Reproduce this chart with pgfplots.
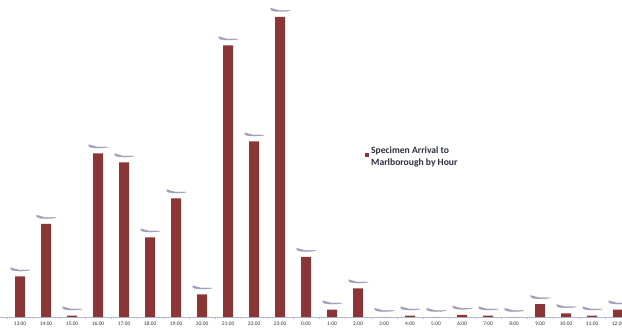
\documentclass[border=0pt]{standalone}
\usepackage{pgfplots}
\pgfplotsset{compat=1.18}
\usepackage{fontspec}
\setmainfont{Carlito}

\definecolor{barred}{HTML}{8B3636}
\definecolor{lblgray}{HTML}{9EA0BC}
\definecolor{axisgray}{HTML}{B4B8D0}
\definecolor{textdark}{HTML}{2E2E40}

\pgfplotstableread{
idx hour  count
0   13:00 27
1   14:00 62
2   15:00 1
3   16:00 109
4   17:00 103
5   18:00 53
6   19:00 79
7   20:00 15
8   21:00 181
9   22:00 117
10  23:00 200
11  0:00  40
12  1:00  5
13  2:00  19
14  3:00  0
15  4:00  1
16  5:00  0
17  6:00  1.5
18  7:00  1
19  8:00  0
20  9:00  8.5
21  10:00 2.5
22  11:00 1
23  12:00 5
}\arrivals

\begin{document}
\begin{tikzpicture}
\path[use as bounding box] (0,-13pt) rectangle (622pt,317pt);
\begin{axis}[
    scale only axis,
    width=622pt, height=317pt,
    at={(0,0)}, anchor=south west,
    xmin=-0.77, xmax=23.15,
    ymin=0, ymax=211.3,
    axis y line=none,
    axis x line*=bottom,
    x axis line style={draw=axisgray, line width=0.4pt, -},
    xtick=data,
    xticklabels from table={\arrivals}{hour},
    major tick length=0pt,
    minor xtick={-0.5,0.5,...,23.5},
    minor tick length=2pt,
    tick align=outside,
    minor tick style={draw=axisgray, line width=0.4pt},
    x tick label style={font=\fontsize{5.4}{6}\selectfont, text=textdark, yshift=-1.5pt},
    ybar, bar width=10pt,
    nodes near coords={\tikz\draw[lblgray, line width=0.3pt] (0,0) -- (9pt,0) to[out=0,in=-120] (11pt,2.5pt);},
    every node near coord/.append style={anchor=south, inner sep=0pt, xshift=1.5pt, yshift=2.5pt},
    legend style={at={(365pt,172.5pt)}, anchor=north west, draw=none, fill=none,
        font=\bfseries\fontsize{9.6}{12}\selectfont, text=textdark,
        cells={align=left}, inner sep=0pt, row sep=0pt},
    legend image code/.code={\fill[barred] (0pt,0pt) rectangle (4pt,4pt);},
]
\addplot[fill=barred, draw=none] table[x=idx, y=count] {\arrivals};
\legend{Specimen Arrival to\\Marlborough by Hour}
\end{axis}
\end{tikzpicture}
\end{document}
